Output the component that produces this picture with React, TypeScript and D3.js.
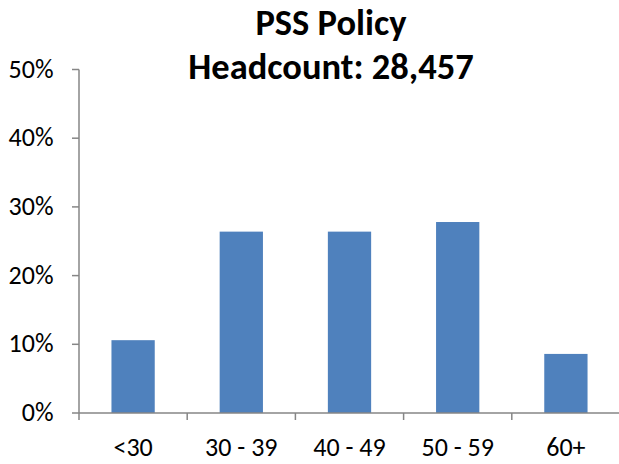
import React from "react";
import * as d3 from "d3";

const categories = ["<30", "30 - 39", "40 - 49", "50 - 59", "60+"];
const values = [0.106, 0.264, 0.264, 0.278, 0.086];
const yTicks = [0, 0.1, 0.2, 0.3, 0.4, 0.5];
const titleLines = ["PSS Policy", "Headcount: 28,457"];

export default function App() {
  const W = 619, H = 464;
  const left = 79, right = 620, top = 69.5, bottom = 413;
  const x = d3.scaleBand<string>().domain(categories).range([left, right]).paddingInner(0).paddingOuter(0);
  const y = d3.scaleLinear().domain([0, 0.5]).range([bottom, top]);
  const bw = x.bandwidth() * 0.4;
  const font = "Carlito, Calibri, 'Liberation Sans', sans-serif";
  const axisColor = "#868686";
  const boundaries = categories.map((c) => x(c)!).slice(1);
  return (
    <svg width={W} height={H} style={{ position: "absolute", left: 0, top: 0 }} fontFamily={font}>
      <rect width={W} height={H} fill="#fff" />
      <text x={331} y={35} textAnchor="middle" fontSize={36.5} fontWeight="bold" fill="#000">{titleLines[0]}</text>
      <text x={331} y={79} textAnchor="middle" fontSize={36.5} fontWeight="bold" fill="#000">{titleLines[1]}</text>
      {categories.map((c, i) => (
        <rect key={c} x={x(c)! + (x.bandwidth() - bw) / 2} y={y(values[i])} width={bw} height={bottom - y(values[i])} fill="#4F81BD" />
      ))}
      <line x1={left} x2={left} y1={top} y2={bottom} stroke={axisColor} strokeWidth={1.5} />
      <line x1={left} x2={right} y1={bottom} y2={bottom} stroke={axisColor} strokeWidth={1.5} />
      {yTicks.map((t) => (
        <g key={t}>
          <line x1={left - 7} x2={left} y1={y(t)} y2={y(t)} stroke={axisColor} strokeWidth={1.5} />
          <text x={53.5} y={y(t) + 8} textAnchor="end" fontSize={26} fill="#000">{d3.format(".0%")(t)}</text>
        </g>
      ))}
      <line x1={left} x2={left} y1={bottom} y2={bottom + 7} stroke={axisColor} strokeWidth={1.5} />
      {boundaries.map((b, i) => (
        <line key={i} x1={b} x2={b} y1={bottom} y2={bottom + 7} stroke={axisColor} strokeWidth={1.5} />
      ))}
      {categories.map((c) => (
        <text key={c} x={x(c)! + x.bandwidth() / 2} y={456} textAnchor="middle" fontSize={26} fill="#000">{c}</text>
      ))}
    </svg>
  );
}
